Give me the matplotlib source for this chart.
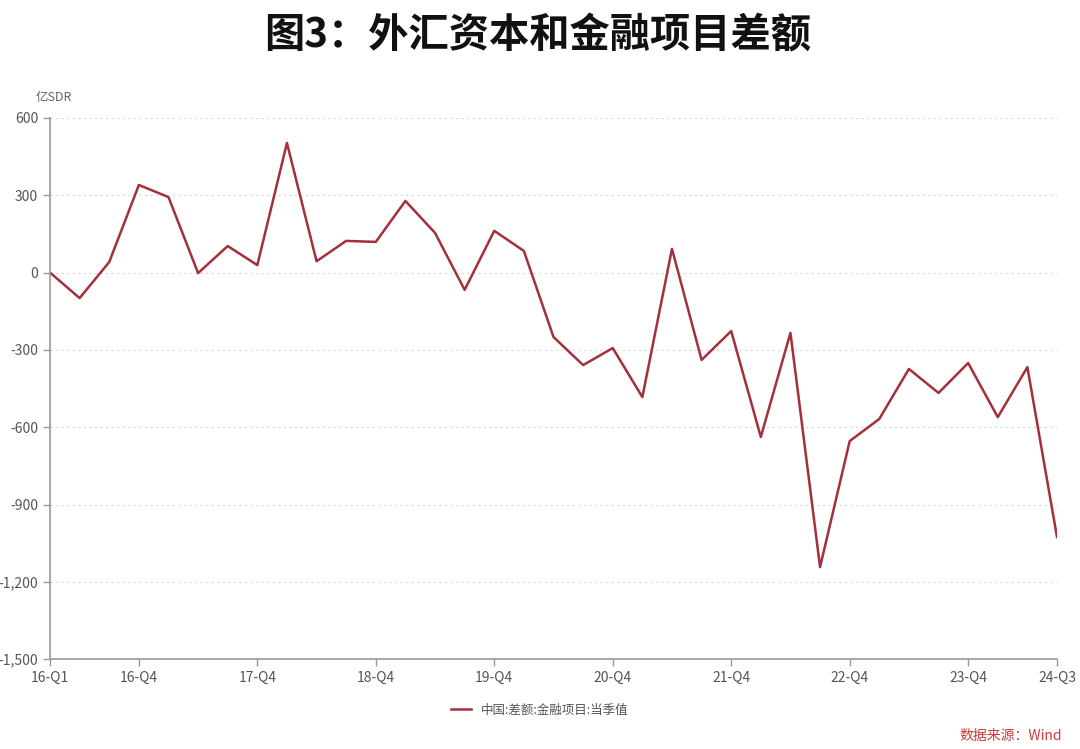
import matplotlib.pyplot as plt
import matplotlib.ticker as mticker

plt.rcParams['font.family'] = ['Noto Sans CJK SC', 'DejaVu Sans']

quarters = [f"{y}-Q{q}" for y in range(16, 25) for q in range(1, 5)][:35]
values = [0, -99, 41, 340, 293, -2, 103, 29, 503, 44, 123, 119, 278, 154, -67,
          162, 84, -250, -359, -293, -483, 92, -339, -227, -638, -234, -1143,
          -654, -568, -374, -467, -351, -561, -367, -1026]
tick_labels = ["16-Q1", "16-Q4", "17-Q4", "18-Q4", "19-Q4", "20-Q4",
               "21-Q4", "22-Q4", "23-Q4", "24-Q3"]
y_ticks = [600, 300, 0, -300, -600, -900, -1200, -1500]

fig = plt.figure(figsize=(10.8, 7.49), dpi=100)
ax = fig.add_axes([0.0463, 0.120, 0.9324, 0.7225])

x = list(range(len(quarters)))
line, = ax.plot(x, values, color='#a3303a', lw=1.8, label='中国:差额:金融项目:当季值')

ax.set_xlim(0, len(quarters) - 1)
ax.set_ylim(-1500, 600)
ax.set_yticks(y_ticks)
ax.yaxis.set_major_formatter(mticker.FuncFormatter(lambda v, p: f"{int(v):,}"))
tick_pos = [quarters.index(t) for t in tick_labels]
ax.set_xticks(tick_pos)
ax.set_xticklabels(tick_labels)

for s in ['top', 'right']:
    ax.spines[s].set_visible(False)
for s in ['left', 'bottom']:
    ax.spines[s].set_color('#999999')
    ax.spines[s].set_linewidth(1.2)
ax.tick_params(axis='both', colors='#999999', labelcolor='#555555', labelsize=10,
               length=5, width=1)
ax.yaxis.grid(True, linestyle=(0, (2, 3)), color='#d8d8d8', lw=0.8)
ax.set_axisbelow(True)

fig.text(0.033, 0.865, '亿SDR', fontsize=9, color='#666666')
fig.text(0.498, 0.952, '图3：外汇资本和金融项目差额', ha='center', va='center',
         fontsize=29, fontweight='bold', color='#111111')
fig.legend(handles=[line], loc='center', bbox_to_anchor=(0.5, 0.052),
           frameon=False, fontsize=9, labelcolor='#555555', handlelength=1.6)
fig.text(0.983, 0.008, '数据来源：Wind', ha='right', va='bottom',
         fontsize=10, color='#d03a3a')

fig.savefig('out.png', dpi=100)
